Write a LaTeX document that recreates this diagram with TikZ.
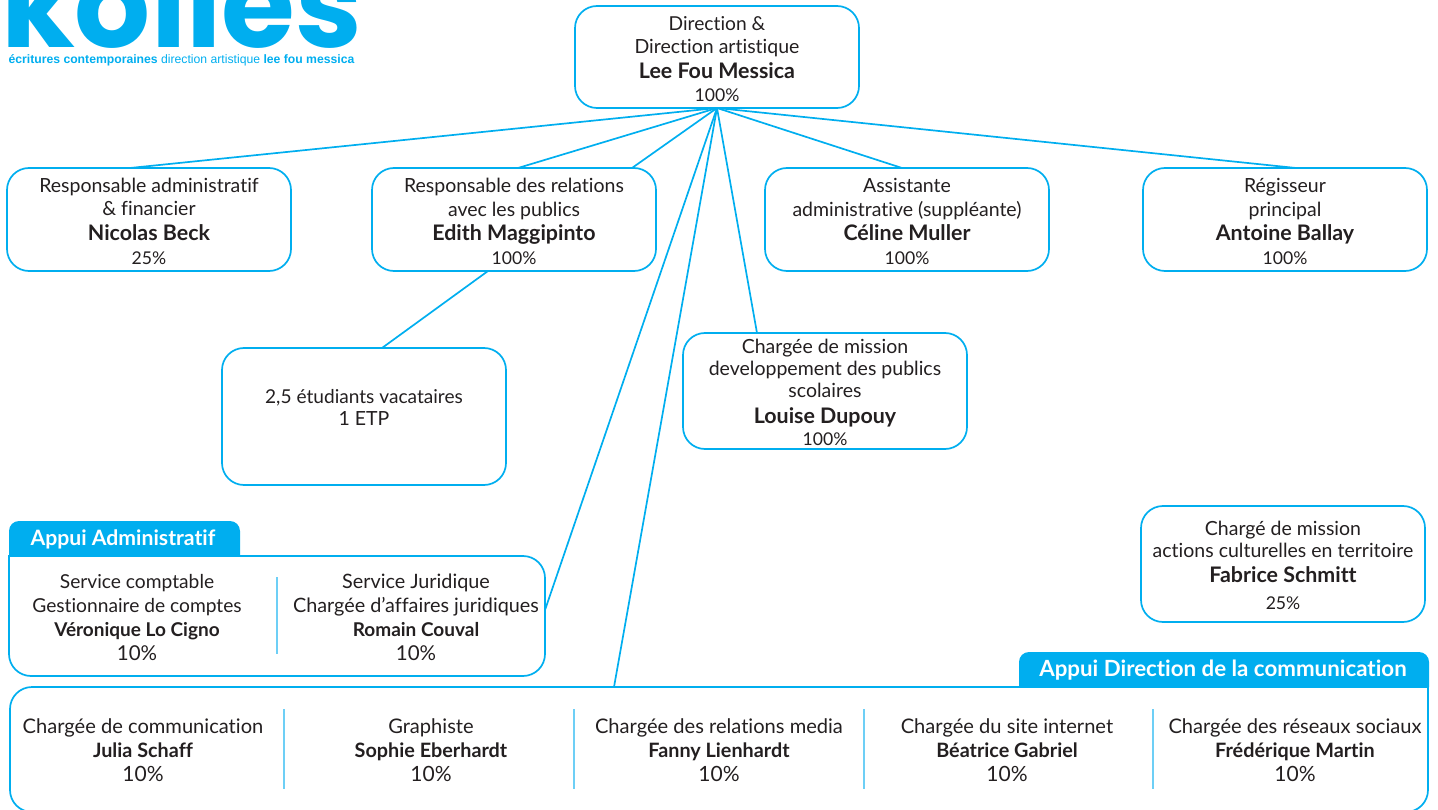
\documentclass[tikz,border=0pt]{standalone}
\usepackage{fontspec}
\setmainfont[Ligatures=CommonOff]{Lato}
\newfontfamily\logofont{Poppins}
\newfontfamily\sublogofont{Liberation Sans}
\usetikzlibrary{positioning}
\definecolor{appui}{HTML}{00AEEF}
\definecolor{sep}{HTML}{6DCFF6}
\definecolor{ink}{HTML}{231F20}
\newcommand{\who}[2][21.4]{{\fontsize{#1}{24}\selectfont\bfseries #2}}
\newcommand{\taux}[2][17.6]{{\fontsize{#1}{24}\selectfont #2}}
\newcommand{\pct}[2][17.6]{\taux[#1]{#2}\\[-28pt]}
\tikzset{
  poste/.style={draw=appui,line width=1.7pt,rounded corners=22pt,minimum width=284,inner sep=0pt,outer sep=0pt,align=center,text=ink,font=\fontsize{19.5}{24}\selectfont},
  cadre/.style={minimum width=#1,inner sep=0pt,outer sep=0pt},
  lien/.style={draw=appui,line width=1.7pt},
  sepline/.style={draw=sep,line width=1.4pt},
  onglet/.style={fill=appui},
  ongtext/.style={text=white,font=\fontsize{#1}{24}\selectfont\bfseries,inner sep=0pt},
  membre/.style={align=center,text=ink,inner sep=0pt,font=\fontsize{#1}{24}\selectfont},
}
\begin{document}
\begin{tikzpicture}[x=1pt,y=-1pt]
    \useasboundingbox (0,0) rectangle (1438,810);
    % logo
    \begin{scope}
    \clip (0,0) rectangle (1438,810);
    \path (181.5,48) node(logo)[anchor=base,inner sep=0pt,text=appui] {\fontsize{119.5}{120}\selectfont\logofont\bfseries kolles};
    \end{scope}
    \path (181.5,60.5) node(sublogo)[text=appui,inner sep=0pt] {\sublogofont\fontsize{12.2}{14}\selectfont\bfseries écritures contemporaines \mdseries direction artistique \bfseries lee fou messica};
    % postes
    \path (717,57) node(direction)[poste,minimum height=102] {\fontsize{19.2}{24}\selectfont Direction \&\\Direction artistique\\\who{Lee Fou Messica}\\\pct{100\%}};
    \path (149,219.5) node(admin)[poste,minimum height=103] {Responsable administratif\\[-1pt]\& financier\\[1pt]\who{Nicolas Beck}\\\pct{25\%}};
    \path (514,219.5) node(relations)[poste,minimum height=103] {Responsable des relations\\avec les publics\\\who{Edith Maggipinto}\\\pct{100\%}};
    \path (907,219.5) node(assistante)[poste,minimum height=103] {Assistante\\administrative (suppléante)\\\who{Céline Muller}\\\pct{100\%}};
    \path (1285,219.5) node(regisseur)[poste,minimum height=103] {Régisseur\\principal\\\who{Antoine Ballay}\\\pct{100\%}};
    \path (364,416.5) node(etudiants)[poste,minimum height=137] {\fontsize{19.1}{24}\selectfont 2,5 étudiants vacataires\\[-2pt]1 ETP\\[-5pt]};
    \path (825,391) node(mission)[poste,minimum height=116] {Chargée de mission\\[-2pt]developpement des publics\\[-2pt]scolaires\\[2pt]\who{Louise Dupouy}\\[-2pt]\taux{100\%}\\[-26pt]};
    \path (1283,564) node(fabrice)[poste,minimum height=116] {Chargé de mission\\[-2pt]actions culturelles en territoire\\[1pt]\who{Fabrice Schmitt}\\[3pt]\taux{25\%}\\[-26pt]};
    % appui administratif
    \path (277,616) node(appuiadm)[cadre=536,minimum height=120] {};
    \draw[lien] (appuiadm.north west) [rounded corners=22pt] -- (appuiadm.north east) -- (appuiadm.south east) -- (appuiadm.south west) [sharp corners] -- cycle;
    \path[onglet] (9,556) [rounded corners=10pt] -- (9,521) -- (240,521) [sharp corners] -- (240,556) -- cycle;
    \path (123,539) node(tabadm)[ongtext=21.2] {Appui Administratif};
    \path (137,615) node(compta)[membre=19.2] {Service comptable\\Gestionnaire de comptes\\\who[19]{Véronique Lo Cigno}\\\pct[20.5]{10\%}};
    \path (416,615) node(juridique)[membre=19.8] {Service Juridique\\Chargée d’affaires juridiques\\\who[19]{Romain Couval}\\\pct[20.5]{10\%}};
    \path (277,577) coordinate(sa1) (277,654) coordinate(sa2);
    \draw[sepline] (sa1) -- (sa2);
    % appui communication
    \path (719,749.5) node(appuicom)[cadre=1418,minimum height=125] {};
    \draw[lien] (appuicom.north east) [rounded corners=22pt] -- (appuicom.south east) -- (appuicom.south west) -- (appuicom.north west) [sharp corners] -- cycle;
    \path[onglet] (1019,687) [rounded corners=10pt] -- (1019,652) -- (1429,652) [sharp corners] -- (1429,687) -- cycle;
    \path (1223,670) node(tabcom)[ongtext=22.3] {Appui Direction de la communication};
    \path (143,748) node(com)[membre=20.1] {Chargée de communication\\\who[19.8]{Julia Schaff}\\\pct[21]{10\%}};
    \path (431,748) node(graph)[membre=20.1] {Graphiste\\\who[19.8]{Sophie Eberhardt}\\\pct[21]{10\%}};
    \path (719,748) node(media)[membre=20.1] {Chargée des relations media\\\who[19.8]{Fanny Lienhardt}\\\pct[21]{10\%}};
    \path (1007,748) node(site)[membre=20.1] {Chargée du site internet\\\who[19.8]{Béatrice Gabriel}\\\pct[21]{10\%}};
    \path (1295,748) node(reseaux)[membre=20.1] {Chargée des réseaux sociaux\\\who[19.8]{Frédérique Martin}\\\pct[21]{10\%}};
    \foreach \x/\n in {284/1,574/2,864/3,1153/4}{
      \path (\x,709) coordinate(sc\n) (\x,789) coordinate(sd\n);
      \draw[sepline] (sc\n) -- (sd\n);
    }
    % liens
    \draw[lien] (direction.south) -- ([xshift=-19pt]admin.north);
    \draw[lien] (direction.south) -- ([xshift=4pt]relations.north);
    \draw[lien] (direction.south) -- ([xshift=118pt]relations.north);
    \draw[lien] (direction.south) -- ([xshift=-5pt]assistante.north);
    \draw[lien] (direction.south) -- ([xshift=11pt]regisseur.north);
    \draw[lien] (direction.south) -- ([xshift=-68pt]mission.north);
    \draw[lien] (direction.south) -- ([yshift=6pt]appuiadm.east);
    \draw[lien] (direction.south) -- ([xshift=-105pt]appuicom.north);
    \draw[lien] ([xshift=-26pt]relations.south) -- ([xshift=18pt]etudiants.north);
\end{tikzpicture}
\end{document}
